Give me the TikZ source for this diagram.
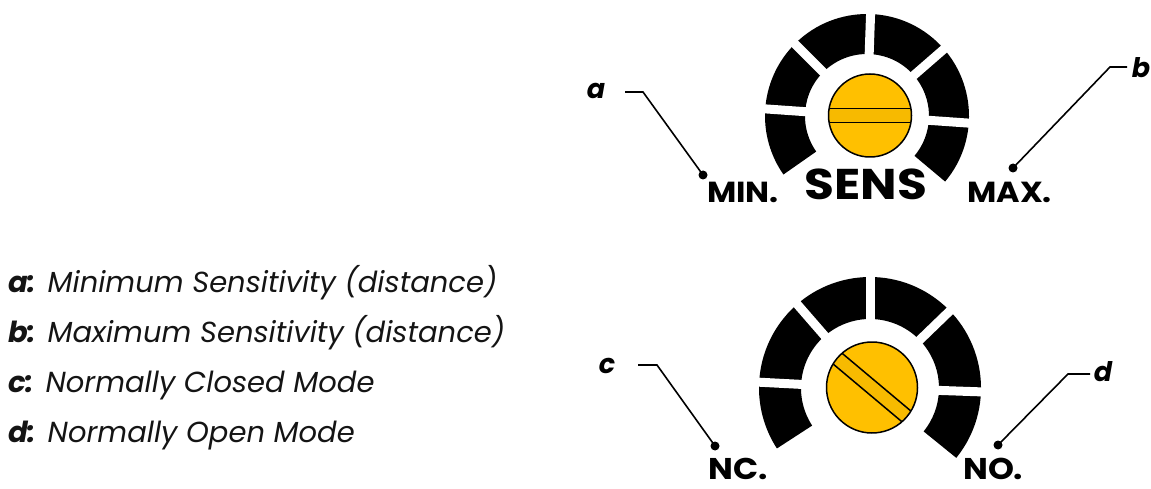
\documentclass[tikz,border=0pt]{standalone}
\usepackage{fontspec}
\setmainfont{Poppins}
\newfontfamily\widesans[FakeStretch=1.1]{Poppins}
\newfontfamily\widersans[FakeStretch=1.13]{Poppins}
\definecolor{screw}{HTML}{FFC000}
\definecolor{slotc}{HTML}{F7BA00}
\begin{document}
\begin{tikzpicture}[x=1pt,y=-1pt,
  leader/.style={line width=1.6pt},
  tipdot/.style={circle,fill=black,inner sep=0pt,minimum size=9pt},
  tag/.style={font=\fontsize{27}{30}\selectfont\bfseries\itshape,inner sep=0pt},
  scale label/.style={font=\widesans\fontsize{29}{32}\selectfont\bfseries,inner sep=0pt,text depth=0pt,anchor=base west},
  mode label/.style={font=\widesans\fontsize{30}{33}\selectfont\bfseries,inner sep=0pt,text depth=0pt,anchor=base west},
  legend/.style={font=\fontsize{29}{32}\selectfont\itshape,inner sep=0pt,anchor=base west,text=black!92},
  gap/.style={white,line width=9pt}]
\useasboundingbox (0,0) rectangle (1151,489);

% ---------- sensitivity dial ----------
\begin{scope}[shift={(867,116)},yscale=-1]
  \fill (-40:102) arc[start angle=-40,end angle=215,radius=102]
        -- (215:62) arc[start angle=215,end angle=-40,radius=62] -- cycle;
  \foreach \g in {-4,41,88,135,176}
    \draw[gap] (\g:55) -- (\g:110);
\end{scope}
\begin{scope}[shift={(870,115.5)},yscale=-1]
  \fill[screw] (0,0) circle[radius=41.5];
  \begin{scope}
    \clip (0,0) circle[radius=41.5];
    \fill[slotc] (-45,-7) rectangle (45,7);
    \draw[line width=1.5pt] (-45,-7) -- (45,-7) (-45,7) -- (45,7);
  \end{scope}
  \draw[line width=1.5pt] (0,0) circle[radius=41.5];
\end{scope}
\node[font=\widersans\fontsize{43}{46}\selectfont\bfseries,inner sep=0pt,text depth=0pt,anchor=base] (sens) at (866,200) {SENS};
\node[scale label] (min) at (707,203) {MIN.};
\node[scale label] (max) at (967,203) {MAX.};

% ---------- mode dial ----------
\begin{scope}[shift={(870,388)},yscale=-1]
  \fill (-39:111) arc[start angle=-39,end angle=213,radius=111]
        -- (213:69) arc[start angle=213,end angle=-39,radius=69] -- cycle;
  \foreach \g in {-2,44,90,131,177}
    \draw[gap] (\g:60) -- (\g:120);
\end{scope}
\begin{scope}[shift={(872,387.5)},yscale=-1,rotate=40]
  \fill[screw] (0,0) circle[radius=45.5];
  \begin{scope}
    \clip (0,0) circle[radius=45.5];
    \fill[slotc] (-50,-7) rectangle (50,7);
    \draw[line width=1.5pt] (-50,-7) -- (50,-7) (-50,7) -- (50,7);
  \end{scope}
  \draw[line width=1.5pt] (0,0) circle[radius=45.5];
\end{scope}
\node[mode label] (nc) at (708,479) {NC.};
\node[mode label] (no) at (963,479) {NO.};

% ---------- leaders ----------
\node[tag] (ta) at (596,91) {a};
\node[tag] (tb) at (1141,68) {b};
\node[tag] (tc) at (607,366) {c};
\node[tag] (td) at (1103,372) {d};
\node[tipdot] (da) at (703,175) {};
\node[tipdot] (db) at (1013,168) {};
\node[tipdot] (dc) at (715,446) {};
\node[tipdot] (dd) at (998,445) {};
\coordinate (a0) at (625,92);  \coordinate (a1) at (643,92);
\coordinate (b0) at (1127,67); \coordinate (b1) at (1110,67);
\coordinate (c0) at (638,365); \coordinate (c1) at (657,365);
\coordinate (d0) at (1090,374);\coordinate (d1) at (1068,374);
\draw[leader] (a0) -- (a1) -- (da.center);
\draw[leader] (b0) -- (b1) -- (db.center);
\draw[leader] (c0) -- (c1) -- (dc.center);
\draw[leader] (d0) -- (d1) -- (dd.center);

% ---------- legend ----------
\node[legend] (l1) at (8,292) {\textbf{a:} Minimum Sensitivity (distance)};
\node[legend] (l2) at (8,342) {\textbf{b:} Maximum Sensitivity (distance)};
\node[legend] (l3) at (8,392) {\textbf{c:} Normally Closed Mode};
\node[legend] (l4) at (8,442) {\textbf{d:} Normally Open Mode};
\end{tikzpicture}
\end{document}
